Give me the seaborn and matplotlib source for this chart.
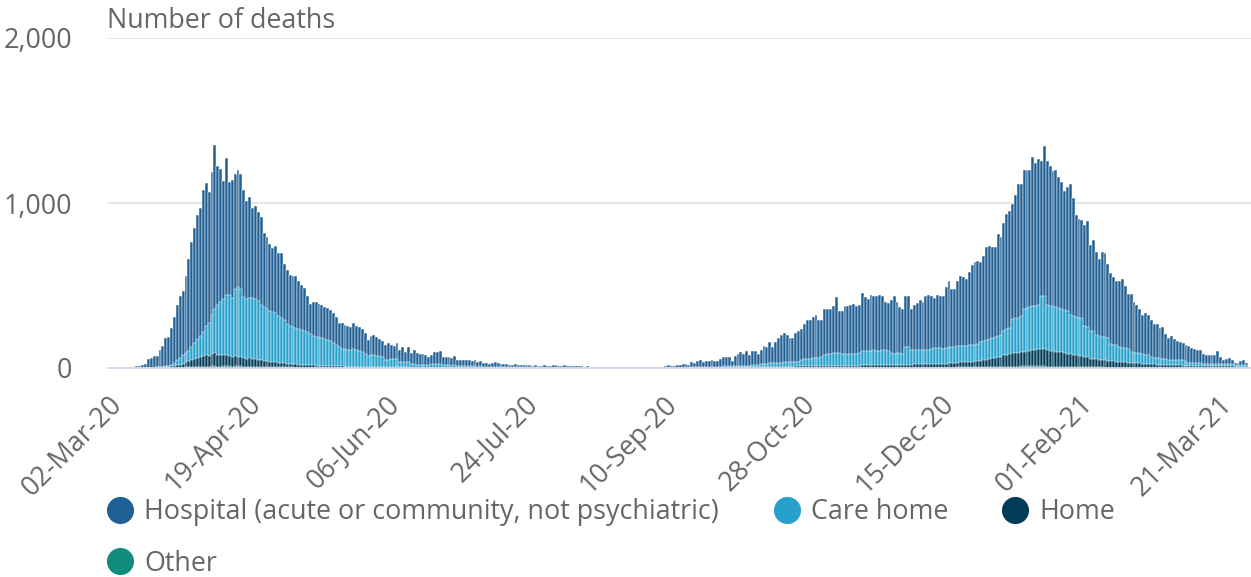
import numpy as np
import pandas as pd
import matplotlib
matplotlib.use("Agg")
import matplotlib.pyplot as plt
import seaborn as sns
from matplotlib.lines import Line2D

# ---------------- data (daily deaths, from 02-Mar-20) ----------------
START_DATE = "2020-03-02"

hospital = [
    0, 1, 0, 1, 2, 2, 3, 4, 6, 7, 10, 12, 16, 24, 50, 57, 67, 68, 102, 127, 170,
    176, 223, 279, 335, 377, 390, 468, 553, 639, 697,
    754, 777, 859, 866, 794, 864, 994, 847, 805, 717, 834, 688, 715, 698, 711, 698, 648, 595, 615, 548,
    567, 538, 535, 448, 436, 403, 385, 405, 379, 398, 340, 328, 309, 312, 317, 294, 272, 259, 221, 180,
    202, 208, 205, 203, 196, 193, 190, 180, 170, 141,
    157, 147, 144, 137, 162, 147, 146, 136, 127, 97, 117, 121, 116, 104, 98, 93, 98, 87, 78, 94,
    75, 87, 65, 89, 70, 84, 72, 65, 64, 60, 48, 56, 70, 72, 79, 51, 52, 53, 45, 58,
    38, 35, 37, 35, 36, 32, 36, 30, 32, 25, 22, 20, 23, 27, 26, 19, 17, 18, 16, 15,
    18, 17, 16, 12, 16, 15, 11, 15, 10, 9, 15, 9, 10, 14, 13, 8, 9, 13, 7, 11,
    8, 12, 7, 8, 6, 9, 3, 4, 2, 3, 4, 2, 3, 2, 1, 2, 2, 3, 2, 2,
    1, 2, 1, 3, 2, 1, 3, 2, 2, 4, 3, 2, 8, 13, 7, 9, 13, 14, 23, 23,
    12, 28, 23, 34, 43, 29, 33, 35, 41, 35, 31, 48, 55, 56, 53, 34, 59, 73, 82, 72,
    86, 66, 89, 84, 66, 89, 107, 101, 130, 99,
    126, 149, 165, 177, 163, 146, 146, 174, 188, 188, 214, 238, 237, 248, 261, 231, 229, 280, 277, 275,
    286, 335, 256, 261, 290, 288, 298, 303, 287, 295,
    350, 323, 315, 334, 328, 332, 338, 329, 293, 291, 321, 352, 312, 282, 274, 312, 309, 249, 276, 286,
    302, 293, 329, 332, 318, 302, 319, 318, 317, 368,
    402, 349, 350, 396, 426, 415, 405, 447, 483, 498,
    505, 485, 518, 567, 562, 551, 550, 621, 593, 651, 700, 710, 700, 750, 810, 802, 840, 839, 829, 904,
    862, 884, 821, 909, 870, 851, 821, 832, 797, 769, 718, 754, 793, 714, 618, 599, 598, 608, 643, 517,
    556, 506, 470, 514, 510, 447, 430, 408, 386, 399, 418, 374, 330, 353, 307, 289, 272, 237, 252, 240,
    229, 205, 206, 184, 194, 154, 132, 145, 126, 112, 108, 106, 105, 101, 88, 83, 78, 78, 60, 50,
    51, 51, 52, 76, 43, 23, 29, 39, 24, 11, 11, 20, 26, 12,
]

care_home = [
    0, 0, 0, 0, 0, 0, 0, 0, 0, 0, 0, 0, 0, 0, 0, 0, 0, 0, 1, 2, 3,
    5, 10, 18, 30, 40, 50, 58, 66, 80, 95,
    115, 130, 150, 175, 200, 240, 270, 300, 320, 340, 360, 370, 355, 405, 420, 410, 370, 360, 365, 370,
    365, 360, 335, 330, 320, 310, 305, 300, 285, 270, 260, 240, 230, 225, 220, 215, 210, 205, 200, 190,
    180, 175, 170, 165, 160, 155, 150, 140, 130, 120,
    108, 105, 102, 100, 104, 100, 96, 90, 76, 66, 70, 72, 68, 64, 62, 40, 45, 48, 52, 50,
    30, 34, 30, 32, 20, 22, 18, 17, 18, 16, 18, 20, 22, 24, 23, 16, 15, 14, 13, 15,
    10, 10, 9, 9, 9, 8, 9, 7, 8, 6, 5, 5, 6, 6, 6, 4, 4, 4, 4, 4,
    3, 3, 3, 3, 3, 3, 3, 3, 3, 3, 2, 2, 2, 2, 2, 2, 2, 2, 2, 2,
    2, 2, 2, 2, 2, 2, 2, 2, 2, 2, 2, 2, 2, 2, 2, 2, 2, 2, 2, 2,
    2, 2, 2, 2, 2, 2, 2, 2, 2, 2, 2, 2, 2, 2, 2, 2, 2, 2, 2, 2,
    3, 4, 4, 4, 5, 5, 5, 5, 6, 6, 6, 6, 7, 7, 7, 7, 8, 8, 9, 9,
    10, 10, 11, 12, 14, 16, 18, 20, 22, 22,
    24, 25, 25, 26, 26, 27, 27, 28, 28, 40, 42, 44, 45, 48, 50, 50, 52, 68, 70, 72,
    75, 80, 78, 72, 70, 72, 72, 70, 72, 74,
    88, 88, 86, 88, 90, 88, 86, 88, 88, 86, 70, 66, 68, 68, 66, 105, 108, 86, 86, 88,
    86, 84, 86, 84, 94, 95, 96, 94, 92, 94,
    98, 100, 98, 100, 100, 100, 98, 100, 102, 102,
    104, 112, 117, 118, 122, 124, 124, 126, 130, 150, 155, 160, 205, 210, 212, 215, 260, 262, 265, 268,
    268, 270, 322, 325, 274, 270, 272, 268, 265, 262, 264, 260, 240, 238, 235, 232, 230, 188, 185, 170,
    168, 145, 143, 140, 140, 138, 103, 100, 100, 88, 86, 86, 85, 63, 63, 62, 60, 55, 55, 54,
    41, 40, 40, 38, 33, 33, 32, 32, 33, 34, 34, 33, 20, 18, 18, 17, 16, 16, 15, 15,
    15, 14, 14, 14, 13, 13, 13, 12, 12, 12, 12, 11, 11, 11,
]

home = [
    0, 0, 0, 0, 0, 0, 0, 0, 0, 1, 0, 1, 1, 2, 2, 3, 3, 4, 5, 6, 7,
    8, 10, 12, 15, 18, 24, 30, 36, 42, 48,
    52, 58, 62, 70, 66, 72, 78, 70, 72, 66, 70, 62, 60, 62, 58, 56, 52, 48, 50, 46,
    44, 42, 40, 36, 34, 30, 30, 29, 26, 27, 24, 22, 21, 20, 20, 18, 18, 16, 15, 14,
    14, 13, 13, 12, 12, 12, 11, 10, 10, 9,
    9, 8, 8, 8, 8, 7, 7, 7, 6, 6, 6, 6, 5, 5, 5, 5, 5, 4, 4, 4,
    4, 4, 4, 4, 3, 3, 3, 3, 3, 3, 3, 3, 3, 3, 3, 2, 2, 2, 2, 2,
    2, 2, 2, 2, 2, 2, 2, 1, 2, 1, 1, 1, 1, 1, 1, 1, 1, 1, 1, 1,
    1, 1, 1, 1, 1, 1, 1, 1, 1, 1, 1, 1, 1, 1, 1, 1, 1, 1, 1, 1,
    1, 1, 1, 1, 1, 1, 1, 1, 1, 1, 1, 1, 1, 1, 1, 1, 1, 1, 1, 1,
    1, 1, 1, 1, 1, 1, 1, 1, 1, 1, 1, 1, 1, 1, 1, 1, 1, 1, 1, 1,
    1, 2, 1, 2, 2, 2, 2, 2, 3, 3, 3, 3, 3, 3, 4, 3, 4, 4, 4, 4,
    5, 5, 5, 5, 5, 6, 6, 6, 6, 6,
    7, 7, 7, 8, 8, 8, 8, 9, 9, 9, 10, 10, 10, 10, 11, 11, 11, 11, 12, 12,
    12, 12, 12, 13, 13, 13, 13, 14, 14, 14,
    15, 15, 15, 16, 16, 16, 16, 17, 17, 17, 17, 18, 18, 18, 18, 19, 19, 19, 20, 20,
    20, 21, 21, 22, 22, 23, 23, 24, 24, 25,
    26, 27, 28, 29, 30, 31, 32, 33, 34, 35,
    36, 38, 40, 44, 48, 52, 55, 58, 62, 68, 72, 76, 80, 82, 84, 88, 90, 92, 94, 98,
    100, 102, 104, 104, 100, 96, 94, 92, 90, 86, 82, 78, 75, 72, 70, 68, 66, 64, 60, 52,
    50, 48, 46, 45, 44, 42, 40, 38, 36, 35, 34, 33, 31, 30, 28, 27, 26, 25, 24, 23,
    22, 21, 20, 19, 18, 18, 17, 16, 16, 15, 15, 14, 14, 13, 13, 12, 12, 12, 11, 11,
    11, 10, 10, 10, 10, 9, 9, 9, 9, 8, 8, 8, 8, 8,
]

other = [
    0, 0, 0, 0, 0, 0, 0, 0, 0, 0, 0, 0, 0, 0, 0, 0, 0, 0, 0, 0, 0,
    1, 1, 2, 2, 3, 3, 4, 4, 5, 6,
    6, 7, 8, 8, 9, 10, 10, 9, 9, 10, 11, 10, 9, 10, 11, 10, 9, 9, 8, 8,
    8, 7, 7, 6, 6, 6, 5, 5, 5, 4, 4, 4, 4, 3, 3, 3, 3, 3, 2, 2,
    2, 2, 2, 2, 2, 2, 1, 1, 1, 1,
    1, 1, 1, 1, 1, 1, 1, 1, 1, 1, 1, 1, 1, 1, 1, 1, 1, 1, 1, 1,
    0, 0, 0, 0, 0, 0, 0, 0, 0, 0, 0, 0, 0, 0, 0, 0, 0, 0, 0, 0,
    0, 0, 0, 0, 0, 0, 0, 0, 0, 0, 0, 0, 0, 0, 0, 0, 0, 0, 0, 0,
    0, 0, 0, 0, 0, 0, 0, 0, 0, 0, 0, 0, 0, 0, 0, 0, 0, 0, 0, 0,
    0, 0, 0, 0, 0, 0, 0, 0, 0, 0, 0, 0, 0, 0, 0, 0, 0, 0, 0, 0,
    0, 0, 0, 0, 0, 0, 0, 0, 0, 0, 0, 0, 0, 0, 0, 0, 0, 0, 0, 0,
    0, 0, 0, 0, 0, 0, 0, 0, 0, 0, 0, 0, 0, 0, 0, 0, 0, 0, 0, 0,
    0, 0, 0, 0, 0, 0, 0, 0, 0, 0,
    1, 1, 1, 1, 1, 1, 1, 1, 1, 1, 1, 1, 1, 1, 1, 1, 1, 1, 1, 1,
    1, 1, 1, 1, 1, 1, 1, 1, 1, 1,
    2, 2, 2, 2, 2, 2, 2, 2, 2, 2, 2, 2, 2, 2, 2, 2, 2, 2, 2, 2,
    2, 2, 2, 2, 2, 2, 2, 2, 2, 2,
    3, 3, 3, 4, 4, 4, 4, 4, 5, 5,
    5, 5, 6, 6, 6, 6, 7, 7, 7, 8, 8, 8, 9, 9, 9, 10, 10, 10, 10, 11,
    10, 11, 10, 10, 9, 9, 9, 8, 8, 8, 7, 7, 7, 6, 6, 6, 5, 5, 5, 4,
    4, 4, 4, 4, 3, 3, 3, 3, 3, 3, 3, 2, 2, 2, 2, 2, 2, 2, 2, 2,
    1, 1, 1, 1, 1, 1, 1, 1, 1, 1, 1, 1, 1, 1, 1, 1, 1, 1, 1, 1,
    1, 1, 1, 1, 1, 1, 1, 1, 1, 1, 1, 1, 1, 1,
]

series_names = ["Hospital (acute or community, not psychiatric)", "Care home", "Home", "Other"]
series_colors = ["#206095", "#27a0cc", "#003c57", "#118c7b"]
y_ticks = [0, 1000, 2000]
y_title = "Number of deaths"
TICK_EVERY_DAYS = 48

# ---------------- style ----------------
sns.set_style("white")
plt.rcParams["font.family"] = ["Open Sans", "DejaVu Sans"]
TEXT = "#666666"
AXIS = "#ccd6eb"
FS = 19.4

n = len(hospital)
dates = pd.date_range(START_DATE, periods=n, freq="D")
day = np.arange(n)
h = np.array(hospital)
c = np.array(care_home)
hm = np.array(home)
o = np.array(other)

lower1 = o
lower2 = o + hm
lower3 = lower2 + c
total = lower3 + h

W, H = 1251, 577
fig = plt.figure(figsize=(W / 100, H / 100), dpi=100)
ax = fig.add_axes([108 / W, 1 - 368 / H, (W - 108) / W, 330 / H])

for vals, col in zip([total, lower3, lower2, lower1], series_colors):
    sns.barplot(x=day, y=vals, color=col, native_scale=True, width=1, saturation=1,
                edgecolor="white", linewidth=0.35, errorbar=None, ax=ax)

ax.set_xlim(0, 395.5)
ax.set_ylim(0, 2000)
ax.set_xlabel("")
ax.set_ylabel("")

# grid / spines
ax.set_axisbelow(True)
ax.yaxis.grid(True, color="#e3e3e3", linewidth=1.3)
ax.xaxis.grid(False)
for s in ["left", "top", "right"]:
    ax.spines[s].set_visible(False)
ax.spines["bottom"].set_color(AXIS)
ax.spines["bottom"].set_linewidth(1.2)
ax.spines["bottom"].set_zorder(5)

ax.set_yticks(y_ticks, [f"{v:,}" for v in y_ticks])
ax.tick_params(axis="y", length=0, pad=26, labelsize=FS, labelcolor=TEXT)

xt = day[::TICK_EVERY_DAYS]
ax.set_xticks(xt, [dates[i].strftime("%d-%b-%y") for i in xt])
ax.tick_params(axis="x", length=14, width=1.1, color=AXIS, pad=2, labelsize=FS,
               labelcolor=TEXT, direction="out")
for lab in ax.get_xticklabels():
    lab.set_rotation(45)
    lab.set_ha("right")
    lab.set_va("top")
    lab.set_rotation_mode("anchor")

fig.text(107 / W, 1 - 21 / H, y_title, ha="left", va="center", fontsize=FS, color=TEXT)

handles = [Line2D([], [], marker="o", linestyle="", markersize=19.5, markeredgewidth=0,
                  markerfacecolor=col) for col in series_colors]
order = [0, 3, 1, 2]
fig.legend([handles[i] for i in order], [series_names[i] for i in order], ncol=3,
           loc="upper left", bbox_to_anchor=(107 / W, 1 - 498 / H), frameon=False,
           fontsize=FS, labelcolor=TEXT, handlelength=1.0, handletextpad=0.39,
           columnspacing=2.0, labelspacing=0.88, borderpad=0, borderaxespad=0)

fig.savefig("out.png", dpi=100)
